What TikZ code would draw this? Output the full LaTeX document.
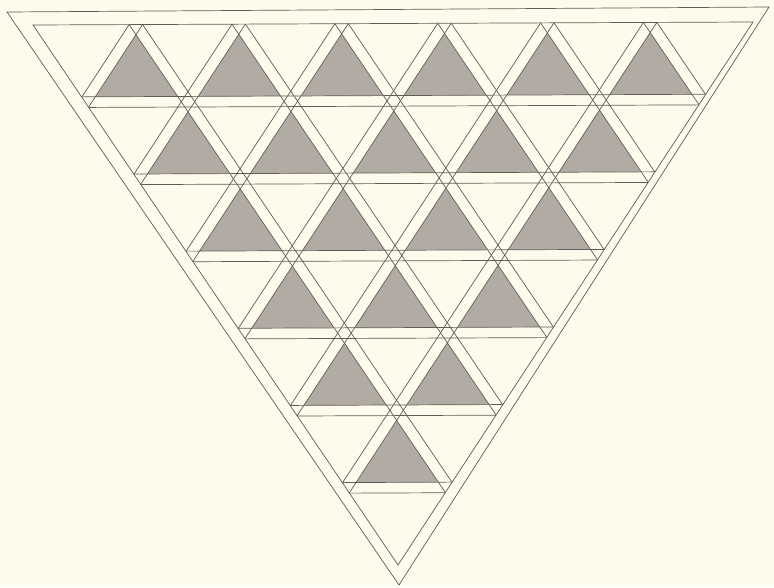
\documentclass[tikz,border=0pt]{standalone}
\usetikzlibrary{calc}
\definecolor{paper}{HTML}{FDFBEC}
\definecolor{ink}{HTML}{5E5C56}
\definecolor{shadegray}{HTML}{B2ABA3}
\tikzset{
  inkline/.style={draw=ink,line width=0.7pt,line join=miter},
  shadetri/.style={fill=shadegray},
}
\newcommand\mystrip[3]{%
  \fill[paper] ($(#1)!#3!90:(#2)$) -- ($(#2)!#3!-90:(#1)$) -- ($(#2)!#3!90:(#1)$) -- ($(#1)!#3!-90:(#2)$) -- cycle;
}
\newcommand\mystriplines[3]{%
  \draw[inkline] ($(#1)!#3!90:(#2)$) -- ($(#2)!#3!-90:(#1)$);
  \draw[inkline] ($(#1)!#3!-90:(#2)$) -- ($(#2)!#3!90:(#1)$);
}
\begin{document}
\begin{tikzpicture}[x=1pt,y=-1pt]
\useasboundingbox (0,0) rectangle (774,587);
\fill[paper] (0,0) rectangle (774,587);
% inner triangle vertices
\coordinate (A) at (33,25);
\coordinate (B) at (753,22);
\coordinate (C) at (398,565);
% outer triangle vertices
\coordinate (OA) at (7,12);
\coordinate (OB) at (769,7);
\coordinate (OC) at (399,585);
% lattice
\foreach \i in {-2,...,9}{
  \foreach \j in {-2,...,9}{
    \coordinate (p\i-\j) at ({33+\i*720/7+\j*365/7},{25-\i*3/7+\j*540/7});
  }
}
\begin{scope}
  \clip (A) -- (B) -- (C) -- cycle;
  % shaded up triangles
  \foreach \j in {0,...,5}{
    \pgfmathtruncatemacro\m{6-\j}
    \foreach \i in {1,...,\m}{
      \pgfmathtruncatemacro\a{\i-1}
      \pgfmathtruncatemacro\b{\j+1}
      \fill[shadetri] (p\i-\j) -- (p\a-\b) -- (p\i-\b) -- cycle;
    }
  }
  % strips (white bands)
  \foreach \k in {1,...,6}{
    \pgfmathtruncatemacro\ka{\k+2}
    \mystrip{p-2-\k}{p9-\k}{5.3pt}
    \mystrip{p\k--2}{p\k-9}{5.6pt}
    \mystrip{p\ka--2}{p-2-\ka}{5.6pt}
  }
  % strip lines
  \foreach \k in {1,...,6}{
    \pgfmathtruncatemacro\ka{\k+2}
    \mystriplines{p-2-\k}{p9-\k}{5.3pt}
    \mystriplines{p\k--2}{p\k-9}{5.6pt}
    \mystriplines{p\ka--2}{p-2-\ka}{5.6pt}
  }
\end{scope}
\draw[inkline] (A) -- (B) -- (C) -- cycle;
\draw[inkline] (OA) -- (OB) -- (OC) -- cycle;
\end{tikzpicture}
\end{document}
